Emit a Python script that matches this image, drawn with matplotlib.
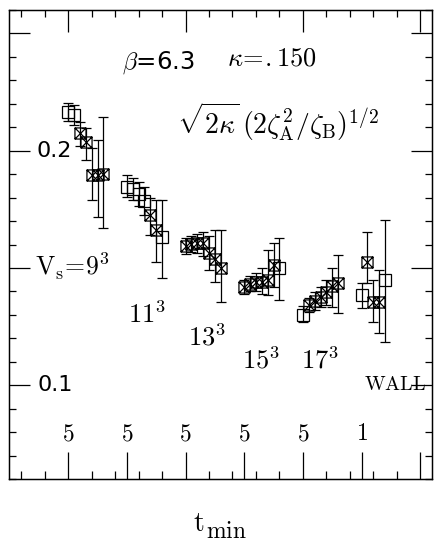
import matplotlib.pyplot as plt
import numpy as np
from matplotlib.path import Path

plt.rcParams['mathtext.fontset'] = 'cm'
plt.rcParams['font.family'] = 'DejaVu Sans'

# effective coupling for each spatial volume, fitted from t_min on
# open = plain box, crossed = box with diagonals
t_9 = [5, 6, 7, 8, 9, 10, 11]
v_9 = [0.2167, 0.2154, 0.2077, 0.2038, 0.1897, 0.1897, 0.1902]
lo_9 = [0.2128, 0.2111, 0.2021, 0.1962, 0.1791, 0.1718, 0.1671]
hi_9 = [0.2205, 0.2197, 0.2124, 0.2098, 0.2013, 0.2047, 0.2145]
x_9 = [0, 0, 1, 1, 1, 1, 1]

t_11 = [5, 6, 7, 8, 9, 10, 11]
v_11 = [0.1846, 0.1838, 0.1816, 0.1786, 0.1726, 0.1662, 0.1632]
lo_11 = [0.1803, 0.1791, 0.1765, 0.1726, 0.1641, 0.1526, 0.1457]
hi_11 = [0.1897, 0.1885, 0.1868, 0.1846, 0.1799, 0.1791, 0.1791]
x_11 = [0, 0, 0, 0, 1, 1, 0]

t_13 = [5, 6, 7, 8, 9, 10, 11]
v_13 = [0.1594, 0.1603, 0.1607, 0.1607, 0.1564, 0.1538, 0.1500]
lo_13 = [0.1560, 0.1568, 0.1564, 0.1551, 0.1491, 0.1440, 0.1355]
hi_13 = [0.1628, 0.1637, 0.1645, 0.1654, 0.1637, 0.1662, 0.1662]
x_13 = [1, 1, 1, 1, 1, 1, 1]

t_15 = [5, 6, 7, 8, 9, 10, 11]
v_15 = [0.1419, 0.1432, 0.1440, 0.1440, 0.1449, 0.1513, 0.1500]
lo_15 = [0.1389, 0.1402, 0.1402, 0.1389, 0.1385, 0.1419, 0.1363]
hi_15 = [0.1449, 0.1466, 0.1479, 0.1500, 0.1577, 0.1607, 0.1628]
x_15 = [1, 1, 1, 1, 1, 1, 0]

t_17 = [5, 6, 7, 8, 9, 10, 11]
v_17 = [0.1299, 0.1342, 0.1359, 0.1376, 0.1397, 0.1423, 0.1436]
lo_17 = [0.1269, 0.1312, 0.1321, 0.1333, 0.1342, 0.1333, 0.1308]
hi_17 = [0.1338, 0.1372, 0.1397, 0.1419, 0.1449, 0.1500, 0.1556]
x_17 = [0, 1, 1, 1, 1, 1, 1]

t_wall = [1, 2, 3, 4, 5]
v_wall = [0.1385, 0.1526, 0.1355, 0.1355, 0.1449]
lo_wall = [0.1329, 0.1436, 0.1269, 0.1222, 0.1184]
hi_wall = [0.1436, 0.1654, 0.1449, 0.1491, 0.1705]
x_wall = [0, 1, 1, 1, 0]

groups = [
    (t_9, v_9, lo_9, hi_9, x_9),
    (t_11, v_11, lo_11, hi_11, x_11),
    (t_13, v_13, lo_13, hi_13, x_13),
    (t_15, v_15, lo_15, hi_15, x_15),
    (t_17, v_17, lo_17, hi_17, x_17),
    (t_wall, v_wall, lo_wall, hi_wall, x_wall),
]
group_labels = ['$5$', '$5$', '$5$', '$5$', '$5$', '$1$']

box_x = Path([(-1, -1), (1, -1), (1, 1), (-1, 1), (-1, -1),
              (-1, -1), (1, 1), (-1, 1), (1, -1)],
             [Path.MOVETO, Path.LINETO, Path.LINETO, Path.LINETO, Path.CLOSEPOLY,
              Path.MOVETO, Path.LINETO, Path.MOVETO, Path.LINETO])

fig = plt.figure(figsize=(4.35, 5.42), dpi=100)
ax = fig.add_axes([0.0218, 0.1162, 0.9713, 0.8653])
ax.set_xlim(0, 18)
ax.set_ylim(0.06, 0.26)

spacing = 0.25
for i, (t, v, lo, hi, crossed) in enumerate(groups):
    t = np.array(t, dtype=float)
    v = np.array(v)
    crossed = np.array(crossed, dtype=bool)
    xs = 2.5 * (i + 1) + spacing * (t - t[0])
    yerr = [v - np.array(lo), np.array(hi) - v]
    ax.errorbar(xs, v, yerr=yerr, fmt='none', ecolor='black',
                elinewidth=0.9, capsize=3.4, capthick=0.9)
    ax.plot(xs[~crossed], v[~crossed], ls='none', marker='s', ms=8,
            mfc='none', mec='black', mew=0.9)
    ax.plot(xs[crossed], v[crossed], ls='none', marker=box_x, ms=8,
            mfc='none', mec='black', mew=0.9)
    ax.text(2.5 * (i + 1), 0.0765, group_labels[i], fontsize=17,
            ha='center', va='baseline')

# frame and ticks
for s in ax.spines.values():
    s.set_linewidth(1.0)
ax.set_yticks([0.1, 0.15, 0.2, 0.25])
ax.set_yticks(np.arange(0.06, 0.2601, 0.01), minor=True)
ax.set_xticks([2.5, 5, 7.5, 10, 12.5, 15, 17.5])
ax.set_xticks(np.arange(0.5, 17.0, 1.0), minor=True)
ax.tick_params(axis='y', which='major', direction='in', length=15, width=0.9,
               left=True, right=True, labelleft=False)
ax.tick_params(axis='y', which='minor', direction='in', length=5, width=0.9,
               left=True, right=True)
ax.tick_params(axis='x', which='major', direction='in', length=19.5, width=0.9,
               top=False, labelbottom=False)
ax.tick_params(axis='x', which='minor', direction='in', length=5.5, width=0.9,
               top=False)

top = ax.twiny()
top.set_xlim(0, 18)
top.set_xticks([2.5, 7.5, 12.5, 17.5])
top.set_xticks(np.arange(0.5, 18.0, 1.0), minor=True)
top.tick_params(axis='x', which='major', direction='in', length=16, width=0.9,
                labeltop=False)
top.tick_params(axis='x', which='minor', direction='in', length=5, width=0.9)

# axis labels written inside the frame
ax.text(1.17, 0.2, '0.2', fontsize=16, ha='left', va='center')
ax.text(1.2, 0.1, '0.1', fontsize=16, ha='left', va='center')
ax.text(1.07, 0.1468, r'$\mathrm{V_s\!=\!9^3}$', fontsize=18.5, ha='left', va='baseline')
ax.text(5.05, 0.1265, r'$11^3$', fontsize=19, ha='left', va='baseline')
ax.text(7.6, 0.1171, r'$13^3$', fontsize=19, ha='left', va='baseline')
ax.text(9.9, 0.1073, r'$15^3$', fontsize=19, ha='left', va='baseline')
ax.text(12.42, 0.1073, r'$17^3$', fontsize=19, ha='left', va='baseline')
ax.text(15.1, 0.0979, r'$\mathrm{WALL}$', fontsize=14.5, ha='left', va='baseline')

ax.text(4.79, 0.2350, r'$\beta$=6.3', fontsize=17.5, ha='left', va='baseline')
ax.text(9.27, 0.2365, r'$\kappa\!=\!.150$', fontsize=19, ha='left', va='baseline')
ax.text(7.14, 0.2073, r'$\sqrt{2\kappa}\,(2\zeta_{\rm A}^2/\zeta_{\rm B})^{1/2}$',
        fontsize=20, ha='left', va='baseline')

fig.text(0.4437, 0.021, r'$\mathrm{t}$', fontsize=20, ha='left', va='baseline')
fig.text(0.4736, 0.0075, r'$\mathrm{min}$', fontsize=17, ha='left', va='baseline')

fig.savefig('out.png', dpi=100)
